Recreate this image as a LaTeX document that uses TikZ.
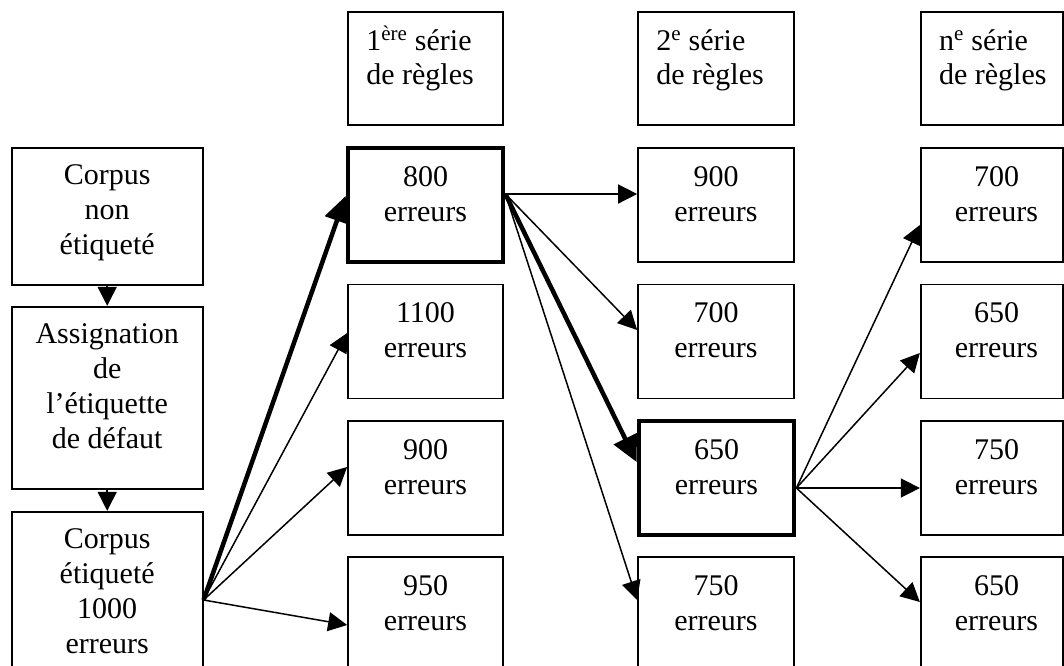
\documentclass[tikz,border=0pt]{standalone}
\usepackage{fontspec}
\setmainfont{Liberation Serif}
\usetikzlibrary{arrows.meta}

\begin{document}
\begin{tikzpicture}[x=1pt,y=-1pt,
  cell/.style={draw, line width=1.7pt, inner sep=0pt, minimum width=155pt, minimum height=114pt},
  best/.style={cell, line width=4.8pt},
  txt/.style={font=\fontsize{30}{35}\selectfont, align=center, inner sep=0pt, anchor=base},
  head/.style={font=\fontsize{30}{34}\selectfont, align=left, inner sep=0pt, anchor=base west},
  link/.style={line width=1.5pt, -{Triangle[length=19pt,width=19pt]}},
  mainlink/.style={line width=4.5pt, -{Triangle[length=26pt,width=25pt]}}
]
\clip (0,0) rectangle (1064,665);

% left column: preparation of the corpus
\node[cell, minimum width=191pt, minimum height=137pt] (L1) at (107.2,216.2) {};
\node[cell, minimum width=191pt, minimum height=182.3pt] (L2) at (107.2,397.85) {};
\node[cell, minimum width=191pt, minimum height=176.6pt] (L3) at (107.2,600) {};
% the base anchor of a multi-line text is the baseline of its last line
\node[txt] (tL1) at ([yshift=-107.5pt]L1.north) {Corpus\\non\\étiqueté};
\node[txt] (tL2) at ([yshift=-142.5pt]L2.north) {Assignation\\de\\l’étiquette\\de défaut};
\node[txt] (tL3) at ([yshift=-142.5pt]L3.north) {Corpus\\étiqueté\\1000\\erreurs};

% column headers
\node[cell, minimum height=113pt] (H1) at (425.5,68.5) {};
\node[cell, minimum width=156pt, minimum height=113pt] (H2) at (716,68.5) {};
\node[cell, minimum width=142pt, minimum height=113pt] (H3) at (991.7,68.5) {};
\node[head] (tH1) at ([xshift=19pt,yshift=-15.5pt]H1.west) {1\textsuperscript{ère} série\\de règles};
\node[head] (tH2) at ([xshift=19pt,yshift=-15.5pt]H2.west) {2\textsuperscript{e} série\\de règles};
\node[head] (tH3) at ([xshift=19pt,yshift=-15.5pt]H3.west) {n\textsuperscript{e} série\\de règles};

% first series of rules
\node[best] (b800) at (425.5,205) {};
\node[cell] (b1100) at (425.5,341.5) {};
\node[cell] (b900) at (425.5,478) {};
\node[cell] (b950) at (425.5,614) {};
\node[txt] (t800) at ([yshift=-16pt]b800.center) {800\\erreurs};
\node[txt] (t1100) at ([yshift=-16pt]b1100.center) {1100\\erreurs};
\node[txt] (t900) at ([yshift=-16pt]b900.center) {900\\erreurs};
\node[txt] (t950) at ([yshift=-16pt]b950.center) {950\\erreurs};

% second series of rules
\node[cell, minimum width=156pt] (c900) at (716,205) {};
\node[cell, minimum width=156pt] (c700) at (716,341.5) {};
\node[best] (c650) at (716.5,478) {};
\node[cell, minimum width=156pt] (c750) at (716,614) {};
\node[txt] (u900) at ([yshift=-16pt]c900.center) {900\\erreurs};
\node[txt] (u700) at ([yshift=-16pt]c700.center) {700\\erreurs};
\node[txt] (u650) at ([yshift=-16pt]c650.center) {650\\erreurs};
\node[txt] (u750) at ([yshift=-16pt]c750.center) {750\\erreurs};

% n-th series of rules
\node[cell, minimum width=142pt] (d700) at (991.7,205) {};
\node[cell, minimum width=142pt] (d650) at (991.7,341.5) {};
\node[cell, minimum width=142pt] (d750) at (991.7,478) {};
\node[cell, minimum width=142pt] (d650b) at (991.7,614) {};
\node[txt] (v700) at ([xshift=4.8pt,yshift=-16pt]d700.center) {700\\erreurs};
\node[txt] (v650) at ([xshift=4.8pt,yshift=-16pt]d650.center) {650\\erreurs};
\node[txt] (v750) at ([xshift=4.8pt,yshift=-16pt]d750.center) {750\\erreurs};
\node[txt] (v650b) at ([xshift=4.8pt,yshift=-16pt]d650b.center) {650\\erreurs};

% preparation chain
\draw[link] (L1) -- (L2);
\draw[link] (L2) -- (L3);

% tagged corpus to first series
\draw[mainlink] (L3.east) -- ([yshift=9pt]b800.west);
\draw[link] (L3.east) -- ([yshift=8.5pt]b1100.west);
\draw[link] (L3.east) -- ([yshift=11pt]b900.west);
\draw[link] (L3.east) -- ([yshift=-11pt]b950.west);

% best of first series to second series
\draw[link] ([yshift=11pt]b800.east) -- ([yshift=11pt]c900.west);
\draw[link] ([yshift=11pt]b800.east) -- ([yshift=11.5pt]c700.west);
\draw[mainlink] ([yshift=11pt]b800.east) -- ([yshift=16pt]c650.west);
\draw[link] ([yshift=11pt]b800.east) -- ([yshift=14pt]c750.west);

% best of second series to n-th series
\draw[link] ([yshift=-10pt]c650.east) -- ([yshift=-20pt]d700.west);
\draw[link] ([yshift=-10pt]c650.east) -- ([yshift=-11.5pt]d650.west);
\draw[link] ([yshift=-10pt]c650.east) -- ([yshift=-10pt]d750.west);
\draw[link] ([yshift=-10pt]c650.east) -- ([yshift=12pt]d650b.west);
\end{tikzpicture}
\end{document}
